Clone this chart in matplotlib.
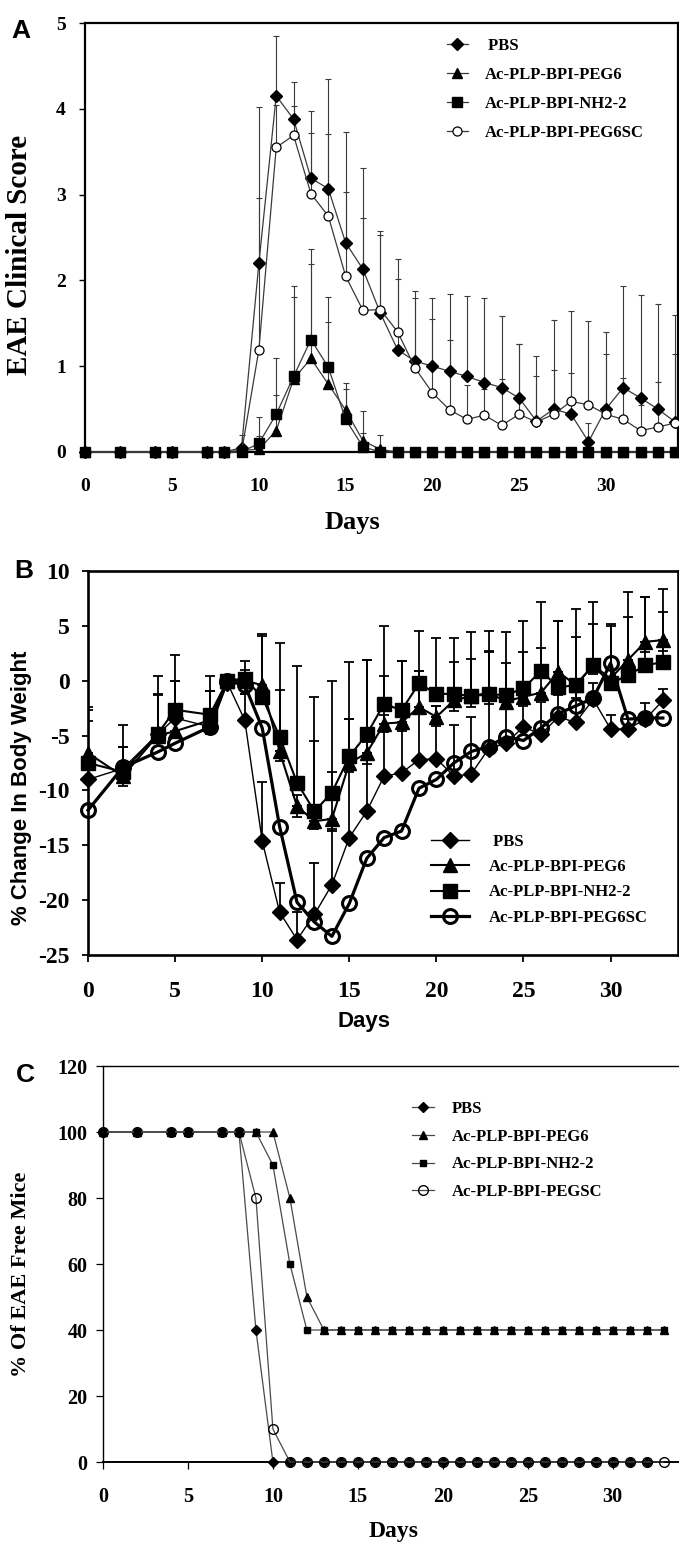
import numpy as np
import matplotlib
matplotlib.use("Agg")
from matplotlib import pyplot as plt

plt.rcParams["axes.unicode_minus"] = False

SERIF = "Liberation Serif"
SANS = "Liberation Sans"

# ---------------- panel A: EAE clinical score ----------------
days_a = [0, 2, 4, 5, 7, 8, 9] + list(range(10, 35))
pbs_a = [0, 0, 0, 0, 0, 0, 0.05, 2.2, 4.15, 3.88, 3.19, 3.07, 2.44, 2.13, 1.62, 1.19,
         1.06, 1.0, 0.94, 0.88, 0.81, 0.75, 0.63, 0.36, 0.5, 0.44, 0.12, 0.5, 0.75,
         0.63, 0.5, 0.35]
pbs_a_err = [0, 0, 0, 0, 0, 0, 0.15, 1.82, 0.7, 0.43, 0.79, 1.28, 1.29, 1.18, 0.95,
             1.06, 0.82, 0.8, 0.9, 0.94, 0.99, 0.84, 0.63, 0.76, 1.04, 0.48, 0.22,
             0.9, 1.19, 1.2, 1.22, 1.25]
peg6_a = [0, 0, 0, 0, 0, 0, 0.02, 0.03, 0.25, 0.85, 1.09, 0.79, 0.49, 0.13, 0.03] + [0] * 17
peg6_a_err = [0, 0, 0, 0, 0, 0, 0, 0.16, 0.41, 0.96, 1.1, 0.72, 0.31, 0.35, 0.17] + [0] * 17
nh2_a = [0, 0, 0, 0, 0, 0, 0, 0.1, 0.44, 0.88, 1.31, 0.99, 0.38, 0.06] + [0] * 18
nh2_a_err = [0, 0, 0, 0, 0, 0, 0, 0.31, 0.65, 1.05, 1.06, 0.82, 0.35, 0.16] + [0] * 18
sc_a = [0, 0, 0, 0, 0, 0, 0, 1.19, 3.55, 3.69, 3.01, 2.75, 2.05, 1.65, 1.66, 1.4,
        0.98, 0.69, 0.49, 0.38, 0.43, 0.31, 0.44, 0.35, 0.44, 0.59, 0.55, 0.44,
        0.38, 0.25, 0.29, 0.34]
sc_a_err = [0, 0, 0, 0, 0, 0, 0, 1.77, 0.5, 0.34, 0.71, 0.96, 0.98, 1.08, 0.87,
            0.62, 0.81, 0.86, 0.82, 0.4, 0.3, 0.54, 0.82, 0.53, 0.52, 1.05, 0.98,
            0.7, 0.48, 0.3, 0.53, 0.8]

# ---------------- panel B: % change in body weight ----------------
days_b = [0, 2, 4, 5, 7, 8, 9] + list(range(10, 34))
pbs_b = [-9.0, -8.0, -4.9, -3.4, -4.2, -0.2, -3.6, -14.6, -21.1, -23.6, -21.3, -18.6,
         -14.3, -11.9, -8.7, -8.4, -7.2, -7.1, -8.7, -8.5, -6.2, -5.7, -4.2, -4.9,
         -3.3, -3.8, -1.7, -4.4, -4.4, -3.5, -1.8]
pbs_b_err = [5.3, 2.0, 3.6, 3.4, 3.3, 0.4, 2.4, 5.4, 2.7, 2.5, 4.7, 5.1, 10.8, 13.8,
             9.1, 10.2, 8.1, 4.8, 4.7, 5.15, 8.9, 3.5, 2.5, 3.0, 2.0, 3.5, 1.5, 1.3,
             0.9, 1.5, 1.0]
peg6_b = [-6.6, -8.7, -5.0, -4.6, -3.6, 0.0, 0.0, -0.4, -6.45, -11.45, -12.8, -12.6,
          -7.5, -6.6, -3.9, -3.8, -2.4, -3.3, -1.8, -1.4, -1.1, -1.9, -1.45, -1.1,
          0.8, -0.4, 1.4, 0.2, 1.9, 3.55, 3.7]
peg6_b_err = [4.2, 2.7, 3.75, 4.6, 2.7, 0.3, 1.0, 4.5, 5.6, 1.0, 7.35, 4.3, 4.0, 1.0,
              0.8, 0.8, 3.3, 1.0, 3.5, 3.4, 3.75, 3.5, 4.05, 4.05, 4.6, 4.4, 3.8,
              4.8, 6.2, 4.05, 4.7]
peg6_b_lo = [0, 0.9, 0, 0, 1.3, 0.5, 1.2, 0, 0.9, 1.0, 0.7, 1.1, 0.8, 1.0, 0.8, 0.8,
             0.6, 0.8, 1.0, 1.0, 1.0, 0.7, 0.85, 0.7, 0.9, 1.2, 0.8, 0.9, 0.8, 0.9, 1.0]
nh2_b = [-7.5, -8.3, -4.85, -2.65, -3.1, 0.0, 0.2, -1.5, -5.1, -9.3, -11.9, -10.2,
         -6.9, -4.9, -2.1, -2.7, -0.25, -1.2, -1.2, -1.4, -1.25, -1.3, -0.7, 0.9,
         -0.6, -0.4, 1.4, -0.25, 0.5, 1.4, 1.7]
nh2_b_err = [4.8, 4.3, 5.25, 4.95, 3.5, 0.5, 1.6, 5.8, 8.5, 10.6, 10.4, 10.2, 8.6, 6.8,
             7.1, 4.5, 4.75, 5.05, 5.05, 5.8, 5.75, 5.7, 6.15, 6.3, 6.0, 6.9, 5.8,
             5.45, 5.3, 6.2, 4.6]
sc_b = [-11.8, -7.9, -6.5, -5.7, -4.2, 0.0, -0.4, -4.3, -13.3, -20.2, -22.0, -23.3,
        -20.3, -16.2, -14.3, -13.7, -9.8, -9.0, -7.5, -6.45, -6.0, -5.1, -5.45, -4.3,
        -3.0, -2.3, -1.6, 1.6, -3.5, -3.4, -3.4]

# ---------------- panel C: % of EAE free mice ----------------
days_c = [0, 2, 4, 5, 7, 8, 9] + list(range(10, 34))
pbs_c = [100, 100, 100, 100, 100, 100, 40, 0] + [0] * 22 + [np.nan]
peg6_c = [100, 100, 100, 100, 100, 100, 100, 100, 80, 50] + [40] * 21
nh2_c = [100, 100, 100, 100, 100, 100, 100, 90, 60, 40] + [40] * 21
sc_c = [100, 100, 100, 100, 100, 100, 80, 10] + [0] * 23

labels_ab = ["PBS", "Ac-PLP-BPI-PEG6", "Ac-PLP-BPI-NH2-2", "Ac-PLP-BPI-PEG6SC"]
labels_c = ["PBS", "Ac-PLP-BPI-PEG6", "Ac-PLP-BPI-NH2-2", "Ac-PLP-BPI-PEGSC"]

W, H = 679, 1542
fig = plt.figure(figsize=(W / 100, H / 100), dpi=100)


def rect(left, top, right, bottom):
    return [left / W, 1 - bottom / H, (right - left) / W, (bottom - top) / H]


def err_bars(ax, x, y, up, lo=None, lw=0.8, cap=2.2, color="black", z=2):
    x = np.asarray(x, float)
    y = np.asarray(y, float)
    up = np.asarray(up, float)
    lo = np.zeros_like(up) if lo is None else np.asarray(lo, float)
    m = up > 0
    if m.any():
        ax.errorbar(x[m], y[m], yerr=[np.zeros(m.sum()), up[m]], fmt="none",
                    ecolor=color, elinewidth=lw, capsize=cap, capthick=lw, zorder=z)
    m = lo > 0
    if m.any():
        ax.errorbar(x[m], y[m], yerr=[lo[m], np.zeros(m.sum())], fmt="none",
                    ecolor=color, elinewidth=lw, capsize=cap, capthick=lw, zorder=z)


def style_ticks(ax, size, family, pad_x, pad_y, xlen=4, ylen=4, width=1.0):
    ax.tick_params(axis="x", direction="out", length=xlen, width=width, pad=pad_x,
                   labelsize=size)
    ax.tick_params(axis="y", direction="out", length=ylen, width=width, pad=pad_y,
                   labelsize=size)
    for t in ax.get_xticklabels() + ax.get_yticklabels():
        t.set_fontfamily(family)
        t.set_fontweight("bold")


# ---------- A ----------
ax = fig.add_axes(rect(85.4, 23, 678, 452))
ax.set_xlim(0, 34.16)
ax.set_ylim(0, 5)
lc = "#3a3a3a"
err_bars(ax, days_a, pbs_a, pbs_a_err, color=lc)
err_bars(ax, days_a, sc_a, sc_a_err, color=lc)
err_bars(ax, days_a, peg6_a, peg6_a_err, color=lc)
err_bars(ax, days_a, nh2_a, nh2_a_err, color=lc)
kw = dict(color=lc, lw=0.9, mec="black", clip_on=False)
h1, = ax.plot(days_a, pbs_a, marker="D", ms=6, mfc="black", zorder=3, **kw)
h4, = ax.plot(days_a, sc_a, marker="o", ms=6.5, mfc="white", mew=0.9, zorder=3.5, **kw)
h2, = ax.plot(days_a, peg6_a, marker="^", ms=6.5, mfc="black", zorder=4, **kw)
h3, = ax.plot(days_a, nh2_a, marker="s", ms=6.5, mfc="black", zorder=5, **kw)
ax.set_xticks(range(0, 31, 5))
ax.set_yticks(range(0, 6))
for s in ax.spines.values():
    s.set_linewidth(1.6)
style_ticks(ax, 14, SERIF, 19, 10, xlen=0, ylen=4)
ax.legend([h1, h2, h3, h4], [" " + labels_ab[0]] + labels_ab[1:], loc="upper left",
          bbox_to_anchor=(447 / W, 1 - 38 / H), bbox_transform=fig.transFigure,
          frameon=False, handlelength=1.25, handletextpad=1.0, labelspacing=0.78,
          borderpad=0, borderaxespad=0,
          prop=dict(family=SERIF, weight="bold", size=12))
fig.text(352 / W, 1 - 523 / H, "Days", ha="center", va="center", family=SERIF,
         weight="bold", size=19)
fig.text(20 / W, 1 - 255 / H, "EAE Clinical Score", ha="center", va="center",
         rotation=90, family=SERIF, weight="bold", size=21)
fig.text(21 / W, 1 - 31 / H, "A", ha="center", va="center", family=SANS,
         weight="bold", size=19)

# ---------- B ----------
ax = fig.add_axes(rect(88, 571, 678, 955))
ax.set_xlim(0, 33.87)
ax.set_ylim(-25, 10)
err_bars(ax, days_b, pbs_b, pbs_b_err, lw=1.3, cap=3.6)
err_bars(ax, days_b, peg6_b, peg6_b_err, peg6_b_lo, lw=1.3, cap=3.6)
err_bars(ax, days_b, nh2_b, nh2_b_err, lw=1.3, cap=3.6)
kw = dict(color="black", mec="black", clip_on=False)
g1, = ax.plot(days_b, pbs_b, marker="D", ms=8, mfc="black", lw=1.0, zorder=3, **kw)
g4, = ax.plot(days_b, sc_b, marker="o", ms=10, mfc="none", mew=2.2, lw=2.3, zorder=3.5, **kw)
g2, = ax.plot(days_b, peg6_b, marker="^", ms=10, mfc="black", lw=1.5, zorder=4, **kw)
g3, = ax.plot(days_b, nh2_b, marker="s", ms=10, mfc="black", lw=1.5, zorder=5, **kw)
ax.set_xticks(range(0, 31, 5))
ax.set_yticks(range(-25, 11, 5))
for s in ax.spines.values():
    s.set_linewidth(1.9)
style_ticks(ax, 17, SERIF, 14, 9, xlen=5, ylen=4, width=1.3)
ax.legend([g1, g2, g3, g4], [" " + labels_ab[0]] + labels_ab[1:], loc="upper left",
          bbox_to_anchor=(431 / W, 1 - 834 / H), bbox_transform=fig.transFigure,
          frameon=False, handlelength=2.3, handletextpad=1.2, labelspacing=0.55,
          borderpad=0, borderaxespad=0,
          prop=dict(family=SERIF, weight="bold", size=12))
fig.text(364 / W, 1 - 1022 / H, "Days", ha="center", va="center", family=SANS,
         weight="bold", size=16)
fig.text(22 / W, 1 - 788 / H, "% Change In Body Weight", ha="center", va="center",
         rotation=90, family=SANS, weight="bold", size=16)
fig.text(24 / W, 1 - 571 / H, "B", ha="center", va="center", family=SANS,
         weight="bold", size=19)

# ---------- C ----------
ax = fig.add_axes(rect(103, 1066, 679, 1462))
ax.set_xlim(0, 33.9)
ax.set_ylim(0, 120)
lc = "#4a4a4a"
kw = dict(color=lc, lw=0.9, mec="black", clip_on=False)
k1, = ax.plot(days_c, pbs_c, marker="D", ms=5, mfc="black", zorder=3, **kw)
k4, = ax.plot(days_c, sc_c, marker="o", ms=7, mfc="none", mew=1.0, zorder=3.5, **kw)
k2, = ax.plot(days_c, peg6_c, marker="^", ms=5.5, mfc="black", zorder=4, **kw)
k3, = ax.plot(days_c, nh2_c, marker="s", ms=5, mfc="black", zorder=5, **kw)
ax.set_xticks(range(0, 31, 5))
ax.set_yticks(range(0, 121, 20))
ax.spines["right"].set_visible(False)
for s in ax.spines.values():
    s.set_linewidth(1.0)
ax.spines["bottom"].set_linewidth(1.4)
style_ticks(ax, 14.5, SERIF, 13, 6, xlen=5, ylen=5, width=0.9)
ax.legend([k1, k2, k3, k4], labels_c, loc="upper left",
          bbox_to_anchor=(412 / W, 1 - 1101 / H), bbox_transform=fig.transFigure,
          frameon=False, handlelength=1.3, handletextpad=1.1, labelspacing=0.7,
          borderpad=0, borderaxespad=0,
          prop=dict(family=SERIF, weight="bold", size=12))
fig.text(394 / W, 1 - 1531 / H, "Days", ha="center", va="center", family=SERIF,
         weight="bold", size=17)
fig.text(21 / W, 1 - 1274 / H, "% Of EAE Free Mice", ha="center", va="center",
         rotation=90, family=SERIF, weight="bold", size=16)
fig.text(25 / W, 1 - 1075 / H, "C", ha="center", va="center", family=SANS,
         weight="bold", size=19)

fig.savefig("out.png", dpi=100)
